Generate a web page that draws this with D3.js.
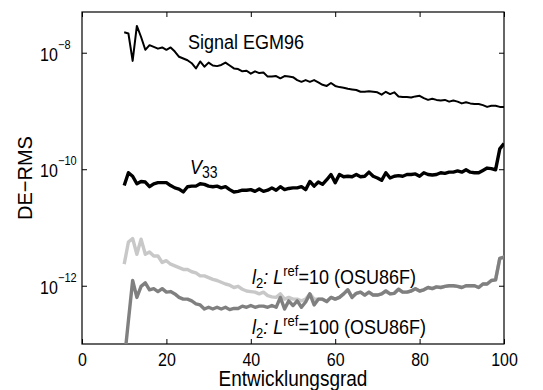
<!DOCTYPE html>
<html>
<head>
<meta charset="utf-8">
<script src="https://d3js.org/d3.v7.min.js"></script>
<style>
  body { margin: 0; background: #fff; }
  svg { display: block; font-family: "Liberation Sans", Arial, Helvetica, sans-serif; }
</style>
</head>
<body>
<svg width="543" height="390"></svg>
<script>
  // degree 10..100, values stored as log10 of DE-RMS
  var degrees = d3.range(10, 101);

  var signalExp = [
    -7.65, -7.67, -8.14, -7.54, -7.73, -7.95, -7.87, -7.90, -7.93, -7.91,
    -7.95, -7.91, -7.98, -8.07, -8.10, -8.13, -8.18, -8.27, -8.15, -8.24,
    -8.17, -8.22, -8.23, -8.21, -8.17, -8.22, -8.27, -8.28, -8.32, -8.31,
    -8.36, -8.32, -8.35, -8.34, -8.41, -8.41, -8.40, -8.44, -8.40, -8.41,
    -8.42, -8.47, -8.50, -8.47, -8.50, -8.47, -8.51, -8.55, -8.57, -8.52,
    -8.57, -8.59, -8.60, -8.62, -8.63, -8.64, -8.67, -8.67, -8.66, -8.67,
    -8.68, -8.72, -8.67, -8.71, -8.68, -8.75, -8.76, -8.76, -8.77, -8.75,
    -8.74, -8.78, -8.81, -8.79, -8.81, -8.82, -8.81, -8.84, -8.82, -8.84,
    -8.87, -8.85, -8.87, -8.88, -8.88, -8.90, -8.93, -8.91, -8.91, -8.93,
    -8.93
  ];

  var v33Exp = [
    -10.28, -10.06, -10.12, -10.25, -10.21, -10.22, -10.30, -10.25, -10.23, -10.23,
    -10.23, -10.28, -10.32, -10.34, -10.39, -10.30, -10.29, -10.29, -10.25, -10.26,
    -10.29, -10.30, -10.29, -10.32, -10.30, -10.35, -10.39, -10.38, -10.36, -10.36,
    -10.35, -10.38, -10.34, -10.38, -10.36, -10.32, -10.36, -10.30, -10.35, -10.33,
    -10.32, -10.32, -10.30, -10.35, -10.21, -10.29, -10.22, -10.26, -10.18, -10.09,
    -10.23, -10.09, -10.13, -10.12, -10.13, -10.09, -10.13, -10.12, -10.05, -10.12,
    -10.15, -10.19, -10.06, -10.15, -10.12, -10.11, -10.12, -10.09, -10.09, -10.08,
    -10.12, -10.06, -10.09, -10.10, -10.09, -10.06, -10.07, -10.05, -10.05, -10.03,
    -10.05, -10.01, -10.05, -10.06, -10.06, -10.02, -9.98, -9.99, -10.01, -9.65,
    -9.56
  ];

  var lref10Exp = [
    -11.63, -11.25, -11.19, -11.46, -11.20, -11.46, -11.42, -11.49, -11.49, -11.60,
    -11.57, -11.63, -11.66, -11.69, -11.72, -11.72, -11.76, -11.78, -11.83, -11.83,
    -11.86, -11.89, -11.91, -11.94, -11.97, -11.99, -12.03, -12.01, -12.06, -12.09,
    -12.10, -12.11, -12.14, -12.11, -12.17, -12.19, -12.20, -12.14, -12.23, -12.20,
    -12.23, -12.23, -12.26, -12.23, -12.14, -12.23, -12.23, -12.23, -12.27, -12.20,
    -12.23, -12.20, -12.14, -12.07, -12.20, -12.13, -12.11, -12.16, -12.11, -12.16,
    -12.16, -12.14, -12.09, -12.14, -12.13, -12.06, -12.11, -12.11, -12.09, -12.05,
    -12.09, -12.07, -12.03, -12.05, -12.02, -12.03, -12.01, -12.00, -12.00, -12.01,
    -12.03, -12.00, -12.00, -12.00, -12.03, -11.97, -11.97, -11.91, -11.90, -11.53,
    -11.51
  ];

  var lref100Exp = [
    -13.30, -12.60, -11.91, -12.20, -12.01, -11.95, -12.07, -12.05, -12.10, -12.05,
    -12.11, -12.10, -12.14, -12.20, -12.23, -12.23, -12.26, -12.31, -12.33, -12.40,
    -12.37, -12.40, -12.37, -12.40, -12.37, -12.41, -12.39, -12.39, -12.35, -12.37,
    -12.34, -12.37, -12.35, -12.35, -12.37, -12.34, -12.37, -12.20, -12.40, -12.26,
    -12.34, -12.26, -12.37, -12.28, -12.14, -12.33, -12.23, -12.23, -12.27, -12.20,
    -12.23, -12.20, -12.14, -12.07, -12.20, -12.13, -12.11, -12.16, -12.11, -12.16,
    -12.16, -12.14, -12.09, -12.14, -12.13, -12.06, -12.11, -12.11, -12.09, -12.05,
    -12.09, -12.07, -12.03, -12.05, -12.02, -12.03, -12.01, -12.00, -12.00, -12.01,
    -12.03, -12.00, -12.00, -12.00, -12.03, -11.97, -11.97, -11.91, -11.90, -11.53,
    -11.51
  ];

  var xTicks = [0, 20, 40, 60, 80, 100];
  var yTickExps = [-12, -10, -8];

  var pLeft = 82, pRight = 504, pTop = 12, pBottom = 344;
  var stretch = 1.12; // glyphs in the original are a bit taller than wide

  var x = d3.scaleLinear().domain([0, 100]).range([pLeft, pRight]);
  var y = d3.scaleLog().domain([1e-13, 5e-8]).range([pBottom, pTop]);

  var svg = d3.select('svg');

  function label(parent, tx, ty, size) {
    return parent.append('text')
      .attr('transform', 'translate(' + tx + ',' + ty + ') scale(1,' + stretch + ')')
      .attr('text-anchor', 'start')
      .attr('font-size', size)
      .attr('fill', '#000');
  }

  svg.append('defs').append('clipPath').attr('id', 'plot')
    .append('rect')
    .attr('x', pLeft).attr('y', pTop)
    .attr('width', pRight - pLeft).attr('height', pBottom - pTop);

  // axes, MATLAB style inward ticks on all four sides
  var xb = svg.append('g')
    .attr('transform', 'translate(0,' + pBottom + ')')
    .call(d3.axisBottom(x).tickValues(xTicks).tickSizeInner(-5).tickSizeOuter(0).tickPadding(8));
  xb.selectAll('text')
    .attr('font-size', 16).attr('fill', '#000')
    .attr('transform', 'scale(1,' + stretch + ')')
    .style('font-family', 'inherit');

  svg.append('g')
    .attr('transform', 'translate(0,' + pTop + ')')
    .call(d3.axisTop(x).tickValues(xTicks).tickSizeInner(-5).tickSizeOuter(0).tickFormat(''));

  var yTickVals = yTickExps.map(function(e) { return Math.pow(10, e); });

  var yl = svg.append('g')
    .attr('transform', 'translate(' + pLeft + ',0)')
    .call(d3.axisLeft(y).tickValues(yTickVals).tickSizeInner(-5).tickSizeOuter(0).tickFormat(''));

  svg.append('g')
    .attr('transform', 'translate(' + pRight + ',0)')
    .call(d3.axisRight(y).tickValues(yTickVals).tickSizeInner(-5).tickSizeOuter(0).tickFormat(''));

  yl.selectAll('.tick').each(function(d, i) {
    var g = d3.select(this);
    g.selectAll('text').remove();
    label(g, -42, 7.3, 16).style('font-family', 'inherit').text('10');
    label(g, -24, -4.4, 11).style('font-family', 'inherit').text('\u2212' + (-yTickExps[i]));
  });

  svg.selectAll('.domain').remove();
  svg.selectAll('.tick line').attr('stroke', '#000');

  // box
  svg.append('rect')
    .attr('x', pLeft).attr('y', pTop)
    .attr('width', pRight - pLeft).attr('height', pBottom - pTop)
    .attr('fill', 'none').attr('stroke', '#000').attr('stroke-width', 1.2);

  var line = d3.line()
    .x(function(d, i) { return x(degrees[i]); })
    .y(function(d) { return y(Math.pow(10, d)); });

  var plot = svg.append('g').attr('clip-path', 'url(#plot)');

  plot.append('path').datum(signalExp)
    .attr('d', line).attr('fill', 'none')
    .attr('stroke', '#000').attr('stroke-width', 2).attr('stroke-linejoin', 'round');

  plot.append('path').datum(v33Exp)
    .attr('d', line).attr('fill', 'none')
    .attr('stroke', '#000').attr('stroke-width', 3.4).attr('stroke-linejoin', 'round');

  plot.append('path').datum(lref10Exp)
    .attr('d', line).attr('fill', 'none')
    .attr('stroke', '#c8c8c8').attr('stroke-width', 3.4).attr('stroke-linejoin', 'round');

  plot.append('path').datum(lref100Exp)
    .attr('d', line).attr('fill', 'none')
    .attr('stroke', '#808080').attr('stroke-width', 3.4).attr('stroke-linejoin', 'round');

  // annotations
  label(svg, 188, 48.5, 18).text('Signal EGM96');

  var v = label(svg, 190, 174, 18);
  v.append('tspan').attr('font-style', 'italic').text('V');
  v.append('tspan').attr('font-size', 14).attr('dy', 3.5).text('33');

  function lrefLabel(xp, yp, val) {
    var t = label(svg, xp, yp, 18);
    t.append('tspan').attr('font-style', 'italic').text('l');
    t.append('tspan').attr('font-size', 13).attr('dy', 4).text('2');
    t.append('tspan').attr('font-style', 'italic').attr('dy', -4).text(': L');
    t.append('tspan').attr('font-size', 13).attr('dy', -7).text('ref');
    t.append('tspan').attr('dy', 7).text('=' + val + ' (OSU86F)');
  }
  lrefLabel(252, 284, 10);
  lrefLabel(252, 333.5, 100);

  // axis labels
  label(svg, (pLeft + pRight) / 2, 386, 19)
    .attr('text-anchor', 'middle')
    .text('Entwicklungsgrad');

  svg.append('text')
    .attr('transform', 'translate(32,' + ((pTop + pBottom) / 2) + ') rotate(-90) scale(1,1.05)')
    .attr('text-anchor', 'middle').attr('font-size', 20)
    .text('DE\u2212RMS');
</script>
</body>
</html>
